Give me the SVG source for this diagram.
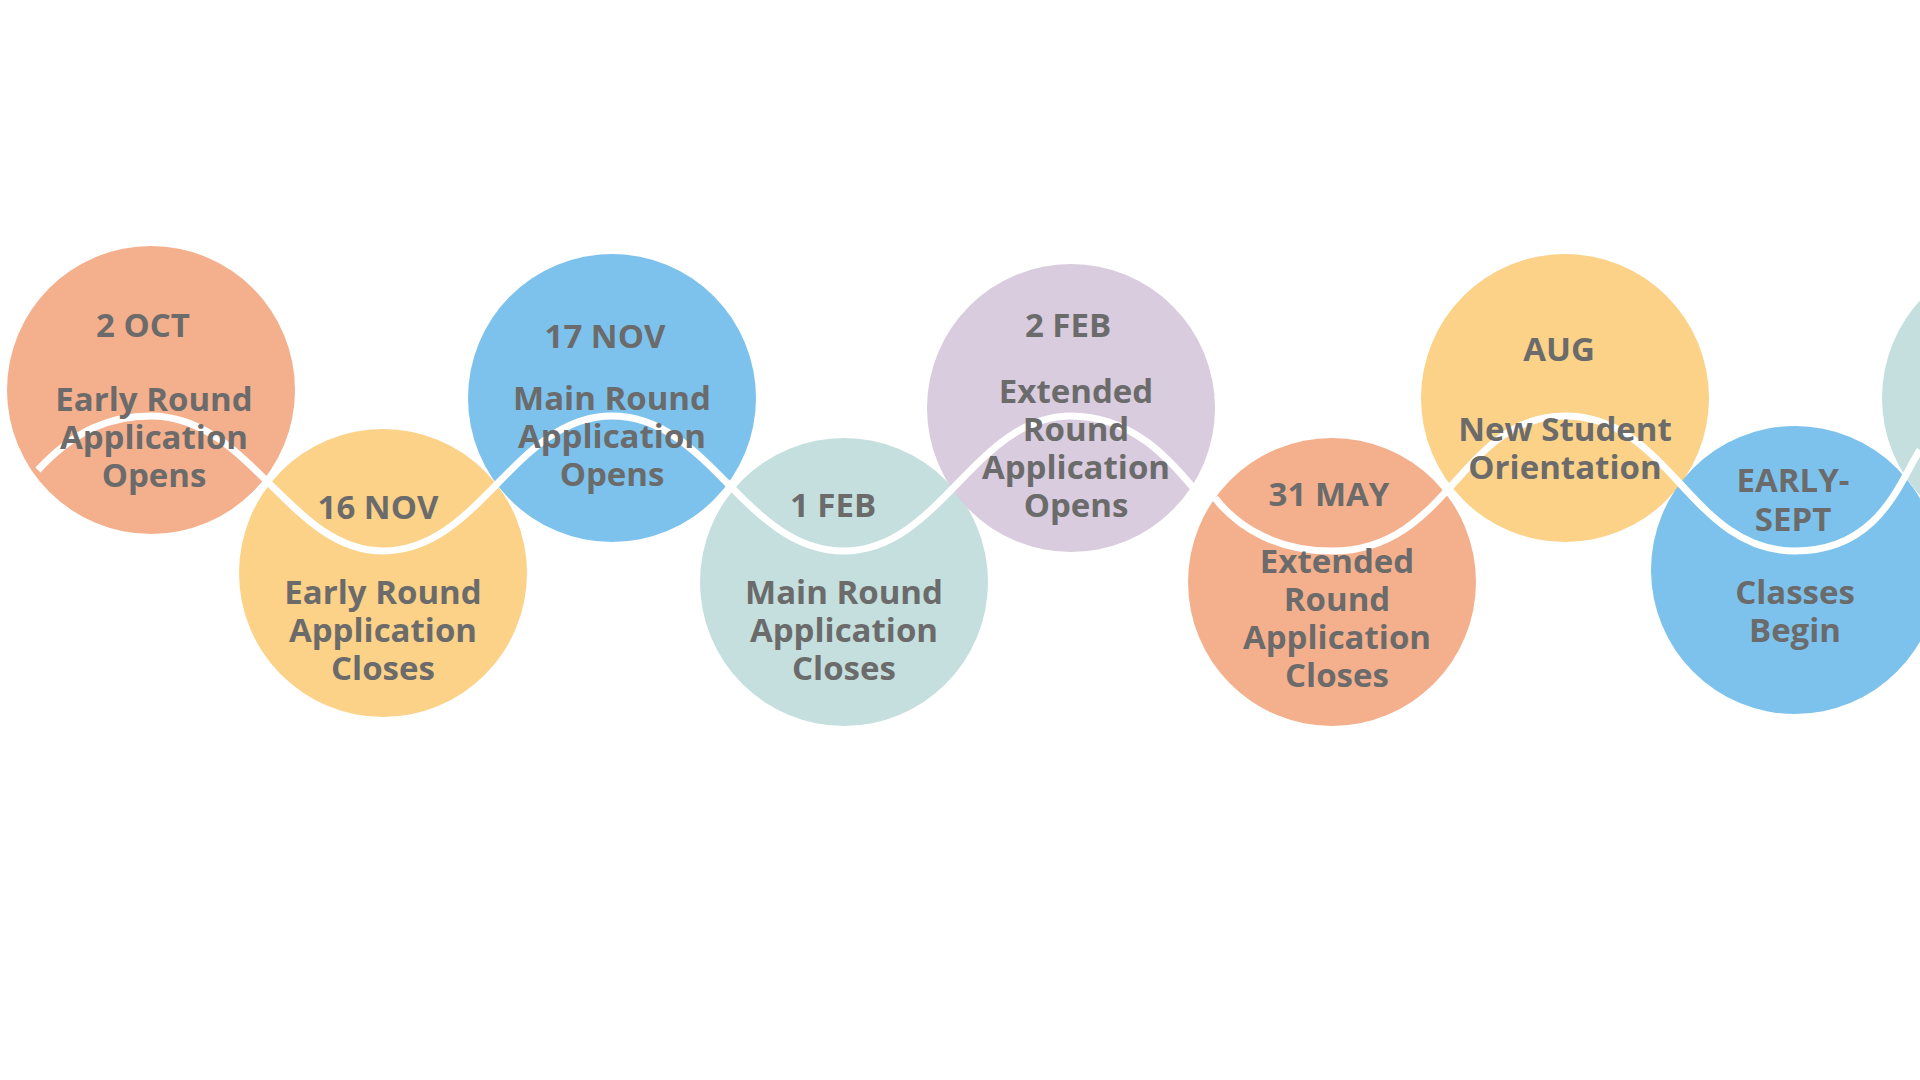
<svg xmlns="http://www.w3.org/2000/svg" width="1920" height="1080" viewBox="0 0 1920 1080">
<style>
.t{font-family:"Open Sans","Noto Sans",sans-serif;font-weight:700;font-size:33px;fill:#6B6B6B;text-anchor:middle}
.s{fill:#F4B08D}.y{fill:#FBD288}.b{fill:#7DC2EC}.g{fill:#C4DFDD}.l{fill:#D8CCDE}
</style>
<rect width="1920" height="1080" fill="#fff"/>
<g id="n1"><circle class="s" cx="151" cy="390" r="144"/></g>
<g id="n2"><circle class="y" cx="383" cy="573" r="144"/></g>
<g id="n3"><circle class="b" cx="612" cy="398" r="144"/></g>
<g id="n4"><circle class="g" cx="844" cy="582" r="144"/></g>
<g id="n5"><circle class="l" cx="1071" cy="408" r="144"/></g>
<g id="n6"><circle class="s" cx="1332" cy="582" r="144"/></g>
<g id="n7"><circle class="y" cx="1565" cy="398" r="144"/></g>
<g id="n8"><circle class="b" cx="1795" cy="570" r="144"/></g>
<g id="n9"><circle class="g" cx="2026" cy="398" r="144"/></g>
<g id="connectors">
<path d="M38 470 C75 430 110 416 151 416 C250 416 290 551 383 551 C480 551 515 416 612 416 C710 416 745 551 844 551 C940 551 975 416 1071 416 C1150 416 1190 490 1205 500 M1215 498 C1240 530 1280 551 1332 551 C1450 551 1460 416 1565 416 C1670 416 1690 551 1795 551 C1880 551 1900 480 1920 450" fill="none" stroke="#fff" stroke-width="7"/>
</g>
<g class="t">
<text x="143" y="337">2 OCT</text><text x="154" y="411">Early Round</text><text x="154" y="449">Application</text><text x="154" y="487">Opens</text>
<text x="378" y="519">16 NOV</text><text x="383" y="604">Early Round</text><text x="383" y="642">Application</text><text x="383" y="680">Closes</text>
<text x="605" y="348">17 NOV</text><text x="612" y="410">Main Round</text><text x="612" y="448">Application</text><text x="612" y="486">Opens</text>
<text x="833" y="517">1 FEB</text><text x="844" y="604">Main Round</text><text x="844" y="642">Application</text><text x="844" y="680">Closes</text>
<text x="1068" y="337">2 FEB</text><text x="1076" y="403">Extended</text><text x="1076" y="441">Round</text><text x="1076" y="479">Application</text><text x="1076" y="517">Opens</text>
<text x="1329" y="506">31 MAY</text><text x="1337" y="573">Extended</text><text x="1337" y="611">Round</text><text x="1337" y="649">Application</text><text x="1337" y="687">Closes</text>
<text x="1559" y="361">AUG</text><text x="1565" y="441">New Student</text><text x="1565" y="479">Orientation</text>
<text x="1793" y="492">EARLY-</text><text x="1793" y="531">SEPT</text><text x="1795" y="604">Classes</text><text x="1795" y="642">Begin</text>
</g>
</svg>
